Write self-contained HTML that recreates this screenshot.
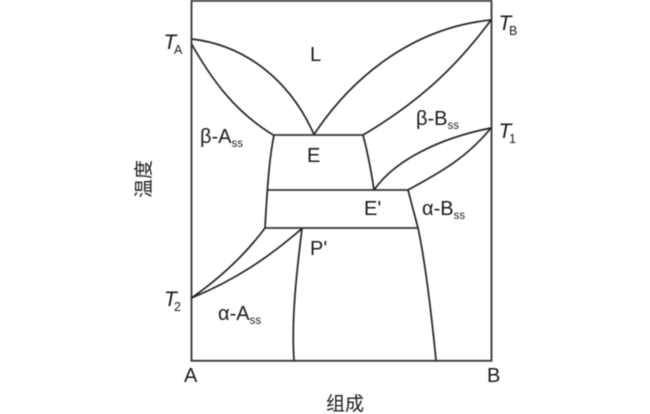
<!DOCTYPE html>
<html><head><meta charset="utf-8"><style>
html,body{margin:0;padding:0;background:#fff;width:650px;height:414px;overflow:hidden}
svg{display:block;filter:blur(.4px)}
text{font-family:"Liberation Sans","Noto Sans CJK SC",sans-serif;fill:#1a1a1a}
.i{font-style:italic}
</style></head><body>
<svg width="650" height="414" viewBox="0 0 650 414" xmlns="http://www.w3.org/2000/svg">
<g fill="none" stroke="#222" stroke-width="1.7">
<rect x="191.5" y="0.8" width="300" height="360" stroke="#333" stroke-width="1.8"/>
<path d="M191.5 39 C 245 45, 290 80, 314 134.5"/>
<path d="M191.5 44 C 212 80, 235 112, 274 135.5"/>
<path d="M314 134.5 C 350 80, 410 28, 491 20"/>
<path d="M363 135 C 412 106, 452 73, 491 20"/>
<path d="M274 135 H363" stroke="#333"/>
<path d="M274 135 C 270 155, 268 175, 265 228"/>
<path d="M363 135 C 367 150, 371 170, 374 190"/>
<path d="M374 190 C 395 160, 440 138, 491 128"/>
<path d="M408 190 C 435 175, 465 160, 491 128"/>
<path d="M268 190 H408" stroke="#333"/>
<path d="M408 190 C 412 205, 416 220, 418 228 C 426 265, 432 320, 436 360"/>
<path d="M265 228 H418" stroke="#333"/>
<path d="M265 228 C 245 255, 220 278, 191.5 298"/>
<path d="M302 228.5 C 268 258, 235 280, 191.5 298"/>
<path d="M302 228.5 C 298 262, 291 315, 294 360"/>
</g>
<text x="163.500" y="49" font-size="21" class="i">T</text><text x="174" y="54" font-size="12.500">A</text>
<text x="498.500" y="30" font-size="21" class="i">T</text><text x="509" y="35" font-size="12.500">B</text>
<text x="498.500" y="138" font-size="21" class="i">T</text><text x="509" y="143" font-size="12.500">1</text>
<text x="164" y="306" font-size="21" class="i">T</text><text x="174" y="311" font-size="12.500">2</text>
<text x="310" y="61" font-size="20">L</text>
<text x="307" y="162" font-size="20">E</text>
<text x="364" y="215" font-size="20">E'</text>
<text x="310" y="255" font-size="20">P'</text>
<text x="200" y="143" font-size="20">β-A<tspan font-size="11.500" dy="4">ss</tspan></text>
<text x="416" y="125" font-size="20">β-B<tspan font-size="11.500" dy="4">ss</tspan></text>
<text x="422" y="215" font-size="20">α-B<tspan font-size="11.500" dy="4">ss</tspan></text>
<text x="218" y="320" font-size="20">α-A<tspan font-size="11.500" dy="4">ss</tspan></text>
<text x="184" y="382" font-size="20">A</text>
<text x="487" y="382" font-size="20">B</text>
<text x="326" y="410" font-size="19">组成</text>
<text transform="translate(150,198) rotate(-90)" font-size="19">温度</text>
</svg>
</body></html>
